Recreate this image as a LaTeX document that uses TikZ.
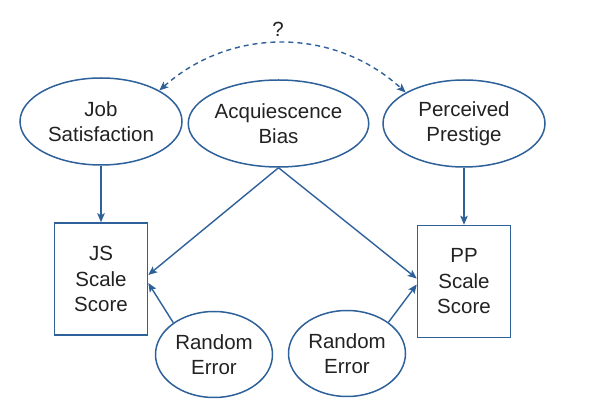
\documentclass[tikz,border=0pt]{standalone}
\usepackage{fontspec}
\setmainfont{Liberation Sans}
\usetikzlibrary{shapes.geometric,arrows.meta}
\definecolor{pathblue}{HTML}{2E6099}
\definecolor{labelgray}{HTML}{222222}
\tikzset{
    latent/.style={ellipse,draw=pathblue,line width=1.5pt,inner sep=0pt,
        minimum width=162pt,minimum height=87pt,align=center,text=labelgray,
        font=\fontsize{20.5}{25.5}\selectfont},
    errnode/.style={latent,minimum width=117pt,minimum height=86pt},
    scalebox/.style={rectangle,draw=pathblue,line width=1.5pt,inner sep=0pt,
        minimum width=93pt,minimum height=112pt,align=center,text=labelgray,
        font=\fontsize{20.5}{25.5}\selectfont},
    path/.style={draw=pathblue,line width=1.4pt,
        -{Stealth[length=9pt,width=7.5pt,inset=2pt]}},
}
\begin{document}
\begin{tikzpicture}[x=1pt,y=1pt]
            \useasboundingbox (0,0) rectangle (597,412);
            \node[latent] (js) at (101,290.5) {Job\\Satisfaction};
            \node[latent] (ab) at (278.5,288.5) {Acquiescence\\Bias};
            \node[latent] (pp) at (464,288.5) {Perceived\\Prestige};
            \node[scalebox] (jsbox) at (101,133) {JS\\Scale\\Score};
            \node[scalebox] (ppbox) at (464,130.5) {PP\\Scale\\Score};
            \node[errnode] (errjs) at (214,57.5) {Random\\Error};
            \node[errnode] (errpp) at (347,58.5) {Random\\Error};
            \node[text=labelgray,font=\fontsize{20.5}{25.5}\selectfont] (q) at (278,383) {?};
            \draw[path] (js.south) -- (jsbox.north);
            \draw[path] (pp.south) -- (ppbox.north);
            \draw[path] (ab.south) -- ([yshift=4pt]jsbox.east);
            \draw[path] (ab.south) -- ([yshift=3pt]ppbox.west);
            \draw[path] (errjs.142) -- ([yshift=-4pt]jsbox.east);
            \draw[path] (errpp.37) -- ([yshift=-3pt]ppbox.west);
            \draw[path,{Stealth[length=9pt,width=7.5pt,inset=2pt]}-{Stealth[length=9pt,width=7.5pt,inset=2pt]},
                dash pattern=on 5pt off 4pt] (js.28) to[bend left=42] (pp.152);
        \end{tikzpicture}
\end{document}
